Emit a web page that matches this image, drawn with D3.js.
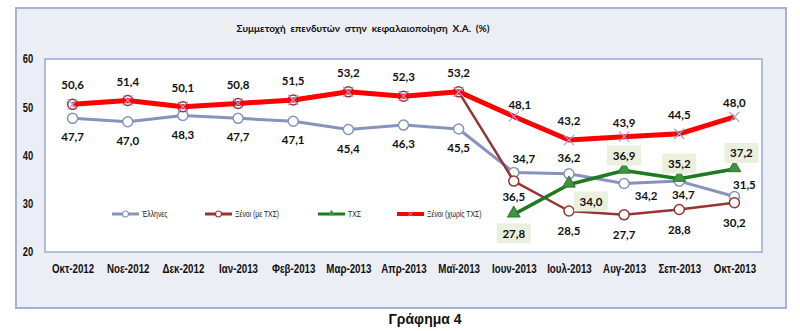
<!DOCTYPE html>
<html lang="el">
<head>
<meta charset="utf-8">
<title>Συμμετοχή επενδυτών στην κεφαλαιοποίηση Χ.Α. (%)</title>
<script src="https://cdn.jsdelivr.net/npm/d3@7"></script>
<style>
  html, body { margin: 0; padding: 0; background: #ffffff; }
  svg { display: block; }
</style>
</head>
<body>
<svg id="chart" width="800" height="331"></svg>
<script>
// Monthly categories (x axis)
const categories = ["Οκτ-2012", "Νοε-2012", "Δεκ-2012", "Ιαν-2013", "Φεβ-2013", "Μαρ-2013",
  "Απρ-2013", "Μαϊ-2013", "Ιουν-2013", "Ιουλ-2013", "Αυγ-2013", "Σεπ-2013", "Οκτ-2013"];

// Participation (%) per investor group
const ellines        = [47.7, 47.0, 48.3, 47.7, 47.1, 45.4, 46.3, 45.5, 36.5, 36.2, 34.2, 34.7, 31.5];
const xenoiMeTxs     = [50.6, 51.4, 50.1, 50.8, 51.5, 53.2, 52.3, 53.2, 34.7, 28.5, 27.7, 28.8, 30.2];
const txs            = [null, null, null, null, null, null, null, null, 27.8, 34.0, 36.9, 35.2, 37.2];
const xenoiChorisTxs = [50.6, 51.4, 50.1, 50.8, 51.5, 53.2, 52.3, 53.2, 48.1, 43.2, 43.9, 44.5, 48.0];

// Y axis ticks
const yTicks = [20, 30, 40, 50, 60];

// Series names (legend)
const seriesNames = ["Έλληνες", "Ξένοι (με ΤΧΣ)", "ΤΧΣ", "Ξένοι (χωρίς ΤΧΣ)"];

const chartTitle = "Συμμετοχή  επενδυτών  στην  κεφαλαιοποίηση  Χ.Α.  (%)";
const caption = "Γράφημα 4";

// ---------------------------------------------------------------
const svg = d3.select("#chart");
const plot = { left: 45, top: 59, right: 762, bottom: 252 };

const grLocale = d3.formatLocale({ decimal: ",", thousands: ".", grouping: [3], currency: ["", "€"] });
const fmt = grLocale.format(".1f");

const x = d3.scalePoint().domain(categories).range([plot.left, plot.right]).padding(0.5);
const y = d3.scaleLinear().domain([20, 60]).range([plot.bottom, plot.top]);

// Narrow bold look: a regular sans squeezed horizontally
const sans = "'Liberation Sans', Arial, sans-serif";
const squeeze = "scale(0.78,1)";
const labelFont = "Lato, 'Open Sans', sans-serif";

// Outer chart frame
svg.append("rect")
  .attr("x", 16).attr("y", 8).attr("width", 770).attr("height", 300)
  .attr("fill", "#eceef5").attr("stroke", "#a7b1d2").attr("stroke-width", 2);

// Plot area
svg.append("rect")
  .attr("x", plot.left).attr("y", plot.top)
  .attr("width", plot.right - plot.left).attr("height", plot.bottom - plot.top)
  .attr("fill", "#ffffff").attr("stroke", "#9ea8cb").attr("stroke-width", 1.5);

// Title
svg.append("text")
  .attr("x", 363).attr("y", 28).attr("dy", "0.35em")
  .attr("text-anchor", "middle")
  .attr("font-family", labelFont).attr("font-weight", "bold").attr("font-size", 10)
  .attr("fill", "#111").attr("xml:space", "preserve")
  .text(chartTitle);

// Y axis
const yAxis = d3.axisLeft(y).tickValues(yTicks).tickSize(0).tickPadding(0);
const gy = svg.append("g").attr("transform", `translate(28,0)`).call(yAxis);
gy.select(".domain").remove();
gy.selectAll("text")
  .attr("x", 0).attr("text-anchor", "middle")
  .attr("transform", squeeze)
  .attr("font-family", sans).attr("font-weight", "bold").attr("font-size", 12)
  .attr("fill", "#111");

// X axis
const xAxis = d3.axisBottom(x).tickSize(0).tickPadding(12);
const gx = svg.append("g").attr("transform", `translate(0,${plot.bottom})`).call(xAxis);
gx.select(".domain").remove();
gx.selectAll("text")
  .attr("transform", squeeze)
  .attr("font-family", sans).attr("font-weight", "bold").attr("font-size", 12.5)
  .attr("fill", "#111");

// Series styling
const series = [
  { name: seriesNames[0], values: ellines,        color: "#8893bd", width: 3,   marker: "circle",   mStroke: "#8893bd" },
  { name: seriesNames[1], values: xenoiMeTxs,     color: "#943634", width: 2.5, marker: "circle",   mStroke: "#943634" },
  { name: seriesNames[2], values: txs,            color: "#1e7a1e", width: 3.5, marker: "triangle", mStroke: "#2b7a2b" },
  { name: seriesNames[3], values: xenoiChorisTxs, color: "#ff0000", width: 5,   marker: "cross",    mStroke: "#a79bd4" }
];

const line = d3.line()
  .defined(d => d.v != null)
  .x(d => x(d.c))
  .y(d => y(d.v));

const tri = d3.symbol().type(d3.symbolTriangle).size(70);

function drawMarker(g, s, pts) {
  if (s.marker === "circle") {
    g.selectAll("circle").data(pts).join("circle")
      .attr("cx", d => x(d.c)).attr("cy", d => y(d.v)).attr("r", 5)
      .attr("fill", "#ffffff").attr("stroke", s.mStroke).attr("stroke-width", 1.5);
  } else if (s.marker === "triangle") {
    g.selectAll("path.m").data(pts).join("path").attr("class", "m")
      .attr("d", tri)
      .attr("transform", d => `translate(${x(d.c)},${y(d.v) - 1})`)
      .attr("fill", "#3f923f").attr("stroke", s.mStroke).attr("stroke-width", 1);
  } else {
    const r = 5;
    g.selectAll("path.m").data(pts).join("path").attr("class", "m")
      .attr("d", `M${-r},${-r}L${r},${r}M${-r},${r}L${r},${-r}`)
      .attr("transform", d => `translate(${x(d.c)},${y(d.v)})`)
      .attr("fill", "none").attr("stroke", s.mStroke).attr("stroke-width", 1.2);
  }
}

series.forEach(s => {
  const pts = categories.map((c, i) => ({ c, v: s.values[i], i })).filter(d => d.v != null);
  const g = svg.append("g");
  g.append("path").datum(categories.map((c, i) => ({ c, v: s.values[i] })))
    .attr("d", line).attr("fill", "none")
    .attr("stroke", s.color).attr("stroke-width", s.width)
    .attr("stroke-linejoin", "round");
  drawMarker(g, s, pts);
});

// Data labels: default offset per series plus a few hand-placed ones
const labelPlacement = [
  { dy: 19, from: 0, nudge: { 8: [0, 24], 9: [0, -16], 10: [22, 12], 11: [4, 14], 12: [10, -12] } },
  { dy: 20, from: 8, nudge: { 8: [10, -22] } },
  { dy: -15, from: 8, box: true, nudge: { 8: [0, 19], 9: [22, 17], 12: [7, -16] } },
  { dy: -19, from: 0, nudge: { 8: [6, -12], 10: [0, -14], 12: [0, -14] } }
];

const labels = svg.append("g")
  .attr("font-family", labelFont).attr("font-weight", "bold").attr("font-size", 11.5)
  .attr("fill", "#111").attr("text-anchor", "middle");

series.forEach((s, si) => {
  const pl = labelPlacement[si];
  s.values.forEach((v, i) => {
    if (v == null || i < pl.from) return;
    const [ndx, ndy] = pl.nudge[i] || [0, pl.dy];
    const lx = x(categories[i]) + ndx;
    const ly = y(v) + ndy;
    if (pl.box) {
      labels.append("rect")
        .attr("x", lx - 17).attr("y", ly - 10).attr("width", 34).attr("height", 20)
        .attr("fill", "#ebf0de");
    }
    labels.append("text").attr("x", lx).attr("y", ly).attr("dy", "0.36em").text(fmt(v));
  });
});

// Legend inside the plot area
const legendX = [112, 205, 318, 397];
const legend = svg.append("g").attr("transform", "translate(0,214)");
series.forEach((s, si) => {
  const g = legend.append("g").attr("transform", `translate(${legendX[si]},0)`);
  g.append("line").attr("x1", 0).attr("x2", 27).attr("y1", 0).attr("y2", 0)
    .attr("stroke", s.color).attr("stroke-width", s.marker === "cross" ? 4 : 3);
  if (s.marker === "circle") {
    g.append("circle").attr("cx", 13.5).attr("cy", 0).attr("r", 3)
      .attr("fill", "#fff").attr("stroke", s.mStroke).attr("stroke-width", 1.2);
  } else if (s.marker === "triangle") {
    g.append("path").attr("d", d3.symbol().type(d3.symbolTriangle).size(18))
      .attr("transform", "translate(13.5,-0.5)").attr("fill", "#3f923f");
  } else {
    g.append("path").attr("d", "M-2.5,-2.5L2.5,2.5M-2.5,2.5L2.5,-2.5")
      .attr("transform", "translate(13.5,0)").attr("stroke", s.mStroke).attr("stroke-width", 1);
  }
  g.append("text").attr("x", 30 / 0.8).attr("y", 0).attr("dy", "0.35em")
    .attr("transform", "scale(0.8,1)")
    .attr("font-family", sans).attr("font-size", 8.5).attr("fill", "#222")
    .text(s.name);
});

// Caption below the frame
svg.append("text")
  .attr("x", 425).attr("y", 319).attr("dy", "0.35em")
  .attr("text-anchor", "middle")
  .attr("font-family", sans)
  .attr("font-weight", "bold").attr("font-size", 14).attr("fill", "#111")
  .text(caption);
</script>
</body>
</html>
